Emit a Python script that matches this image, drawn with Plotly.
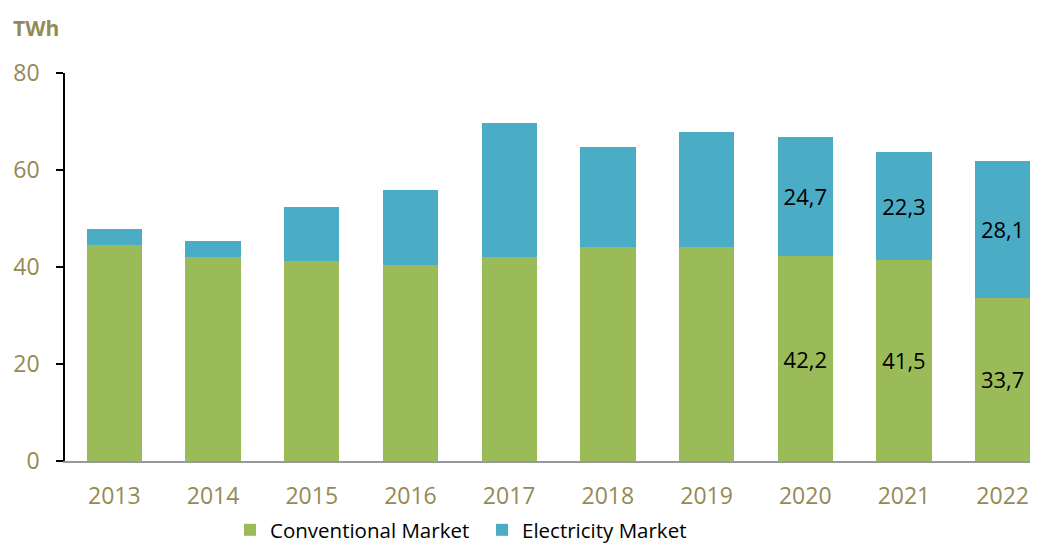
import plotly.graph_objects as go

years = ["2013", "2014", "2015", "2016", "2017", "2018", "2019", "2020", "2021", "2022"]
conventional = [44.5, 42.1, 41.2, 40.5, 42.1, 44.1, 44.1, 42.2, 41.5, 33.7]
electricity = [3.4, 3.3, 11.1, 15.3, 27.6, 20.7, 23.8, 24.7, 22.3, 28.1]
conv_labels = ["", "", "", "", "", "", "", "42,2", "41,5", "33,7"]
elec_labels = ["", "", "", "", "", "", "", "24,7", "22,3", "28,1"]
y_ticks = [0, 20, 40, 60, 80]

GREEN = "#9BBB59"
BLUE = "#4BACC6"
OLIVE = "#948A54"
FONT = "Open Sans"

# page has an 8px body margin; figure coordinates are page coordinates minus 8
OFF = 8
W, H = 1038 - OFF, 543 - OFF
L, R, T, B = 65 - OFF, 0, 73 - OFF, 543 - 461

def px_x(p):
    return (p - OFF - L) / (W - L - R)

def px_y(p):
    return (H - B - (p - OFF)) / (H - T - B)

fig = go.Figure()
fig.add_trace(go.Bar(
    x=list(range(len(years))), y=conventional, name="Conventional Market",
    marker=dict(color=GREEN, line=dict(width=0)),
    text=conv_labels, textposition="inside", insidetextanchor="middle",
    textangle=0, textfont=dict(color="black", size=22, family=FONT),
))
fig.add_trace(go.Bar(
    x=list(range(len(years))), y=electricity, name="Electricity Market",
    marker=dict(color=BLUE, line=dict(width=0)),
    text=elec_labels, textposition="inside", insidetextanchor="middle",
    textangle=0, textfont=dict(color="black", size=22, family=FONT),
))

fig.update_layout(
    width=W, height=H,
    barmode="stack", bargap=0.44,
    margin=dict(l=L, r=R, t=T, b=B, autoexpand=False),
    plot_bgcolor="white", paper_bgcolor="white",
    font=dict(family=FONT, size=20, color="black"),
    uniformtext=dict(mode="show", minsize=20),
    showlegend=True,
    legend=dict(
        orientation="h", x=px_x(230), xanchor="left", y=px_y(530), yanchor="middle",
        font=dict(size=20.5, color="black", family=FONT), traceorder="normal",
        itemwidth=30, entrywidth=207, entrywidthmode="pixels",
    ),
    xaxis=dict(
        tickmode="array", tickvals=list(range(len(years))), ticktext=years,
        range=[-0.5, 9.358], showgrid=False, zeroline=False,
        showline=True, linecolor="#999999", linewidth=1.5,
        ticks="", tickfont=dict(color=OLIVE, size=23, family=FONT),
        ticklabelstandoff=14,
    ),
    yaxis=dict(
        range=[0, 80], tickvals=y_ticks, showgrid=False, zeroline=False,
        showline=True, linecolor="black", linewidth=1.5,
        ticks="outside", ticklen=7, tickcolor="black", tickwidth=1.5,
        tickfont=dict(color=OLIVE, size=23, family=FONT),
        ticklabelstandoff=12,
    ),
    annotations=[dict(
        text="<b>TWh</b>", xref="paper", yref="paper",
        x=px_x(11), y=px_y(28), xanchor="left", yanchor="middle",
        showarrow=False, font=dict(color=OLIVE, size=21, family=FONT),
    )],
)

fig.write_html("out.html")
